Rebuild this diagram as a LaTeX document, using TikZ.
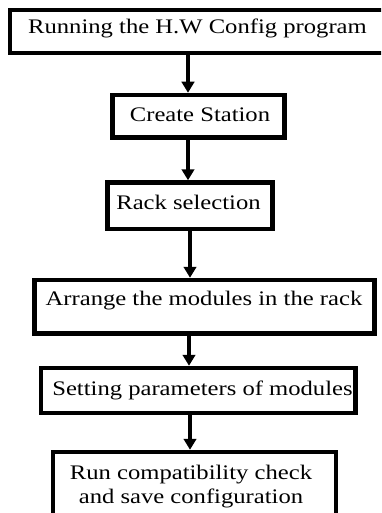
\documentclass[tikz,border=0pt]{standalone}
\usepackage{fontspec}
\setmainfont{Liberation Serif}[FakeStretch=1.19]
\usetikzlibrary{arrows.meta}
\begin{document}
\begin{tikzpicture}[x=1pt,y=-1pt,
  stepbox/.style={draw=black,line width=4.5pt,inner sep=0pt,rectangle},
  steptext/.style={inner sep=0pt,anchor=base,font=\fontsize{20.7}{24}\selectfont},
  arr/.style={line width=4.3pt,-{Triangle[width=12.5pt,length=11pt]}}]
\useasboundingbox (0,0) rectangle (381,513);
\clip (0,0) rectangle (381,513);
% boxes
\node[stepbox,minimum width=390pt,minimum height=43pt] (b1) at (205,31.5) {};
\node[stepbox,minimum width=172pt,minimum height=42.5pt] (b2) at (198.5,116.25) {};
\node[stepbox,minimum width=165pt,minimum height=46.5pt] (b3) at (190,205.75) {};
\node[stepbox,minimum width=340pt,minimum height=53.5pt] (b4) at (204.5,306.75) {};
\node[stepbox,minimum width=314.5pt,minimum height=45pt] (b5) at (198.25,390.5) {};
\node[stepbox,minimum width=283pt,minimum height=88pt] (b6) at (194.5,496) {};
% texts
\node[steptext] (t1) at (197.5,34) {Running the H.W Config program};
\node[steptext] (t2) at (200,122) {Create Station};
\node[steptext] (t3) at (188.5,209) {Rack selection};
\node[steptext] (t4) at (204,305) {Arrange the modules in the rack};
\node[steptext] (t5) at (202.5,395) {Setting parameters of modules};
\node[steptext,align=center] (t6) at (191,503) {Run compatibility check\\ and save configuration};
% arrow columns
\coordinate (c1) at (188,0);
\coordinate (c2) at (188,0);
\coordinate (c3) at (190,0);
\coordinate (c4) at (189,0);
\coordinate (c5) at (190,0);
\draw[arr] (b1.south -| c1) -- (b2.north -| c1);
\draw[arr] (b2.south -| c2) -- (b3.north -| c2);
\draw[arr] (b3.south -| c3) -- (b4.north -| c3);
\draw[arr] (b4.south -| c4) -- (b5.north -| c4);
\draw[arr] (b5.south -| c5) -- (b6.north -| c5);
\end{tikzpicture}
\end{document}
